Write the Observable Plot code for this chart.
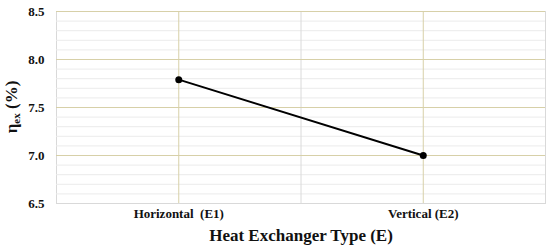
<!DOCTYPE html>
<html>
<head>
<meta charset="utf-8">
<script src="https://cdn.jsdelivr.net/npm/d3@7"></script>
<script src="https://cdn.jsdelivr.net/npm/@observablehq/plot@0.6"></script>
<style>
  html, body { margin: 0; padding: 0; background: #fff; }
</style>
</head>
<body>
<div id="chart"></div>
<script>
const categories = ["Horizontal\u00a0 (E1)", "Vertical (E2)"];
const values = [7.79, 7.0];
const majorTicks = [6.5, 7.0, 7.5, 8.0, 8.5];
const minorTicks = [6.6, 6.7, 6.8, 6.9, 7.1, 7.2, 7.3, 7.4, 7.6, 7.7, 7.8, 7.9, 8.1, 8.2, 8.3, 8.4];
const xTitle = "Heat Exchanger Type (E)";

const data = categories.map((c, i) => ({i, c, v: values[i]}));
const font = "'Liberation Serif', 'Times New Roman', serif";

const chart = Plot.plot({
  width: 550,
  height: 250,
  marginLeft: 56,
  marginRight: 5,
  marginTop: 11,
  marginBottom: 47,
  x: {domain: [-0.5, 1.5]},
  y: {domain: [6.5, 8.5]},
  style: {fontFamily: font, color: "#111", background: "#fff"},
  marks: [
    Plot.frame({stroke: "#d9d9d9"}),
    Plot.ruleY(minorTicks, {stroke: "#ebebeb"}),
    Plot.ruleX([0.5], {stroke: "#dadada"}),
    Plot.ruleY(majorTicks.slice(1), {stroke: "#d7d0a8"}),
    Plot.ruleX([0, 1], {stroke: "#d7d0a8"}),
    Plot.axisY({ticks: majorTicks, tickFormat: d3.format(".1f"), tickSize: 0, tickPadding: 12, fontSize: 13, fontWeight: "bold", label: null}),
    Plot.axisX({ticks: [0, 1], tickFormat: i => categories[i], tickSize: 0, tickPadding: 5, fontSize: 13, fontWeight: "bold", label: null}),
    Plot.text([xTitle], {frameAnchor: "bottom", dy: 37, fontSize: 17, fontWeight: "bold", fill: "#111"}),
    Plot.line(data, {x: "i", y: "v", stroke: "#000", strokeWidth: 2}),
    Plot.dot(data, {x: "i", y: "v", r: 3.5, fill: "#000", stroke: "none"})
  ]
});

document.getElementById("chart").appendChild(chart);

// y-axis label with subscript
const svg = d3.select(chart);
const t = svg.append("text")
  .attr("transform", "translate(17,107) rotate(-90)")
  .attr("text-anchor", "middle")
  .attr("font-family", font)
  .attr("font-weight", "bold")
  .attr("font-size", 17)
  .attr("fill", "#111");
t.append("tspan").text("η");
t.append("tspan").attr("font-size", 11).attr("dy", 3).text("ex");
t.append("tspan").attr("dy", -3).text(" (%)");
</script>
</body>
</html>
